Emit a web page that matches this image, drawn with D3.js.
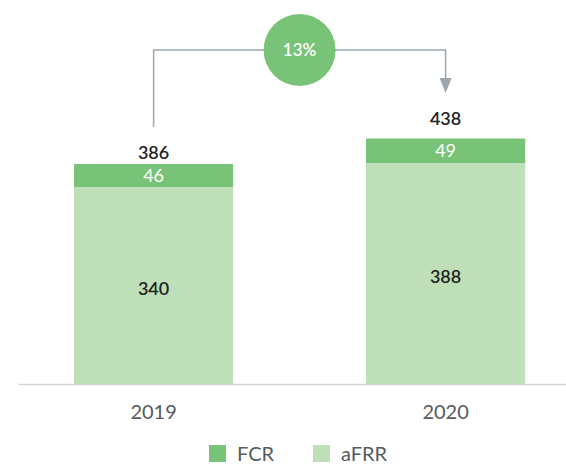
<!DOCTYPE html>
<html>
<head>
<meta charset="utf-8">
<script src="https://cdn.jsdelivr.net/npm/d3@7"></script>
<style>
  body { margin: 0; background: #fff; }
  text { font-family: Lato, "Open Sans", sans-serif; }
</style>
</head>
<body>
<div id="the_chart"></div>
<script>
var years = ["2019", "2020"];
var afrr = [340, 388];
var fcr = [46, 49];
var totals = [386, 438];
var growthLabel = "13%";
var seriesNames = ["FCR", "aFRR"];

var w = 566, h = 464;
var baseY = 384;
var colFCR = "#78c378", colAFRR = "#bedfb8";
var totalGap = [5, 13];

var svg = d3.select("#the_chart").append("svg")
    .attr("width", w).attr("height", h);

var xscale = d3.scaleBand()
    .domain(years)
    .range([7.6, 591.6])
    .paddingInner(0.455)
    .paddingOuter(0.2275);

// value axis does not start at zero in the original
var yscale = d3.scaleLinear()
    .domain([-54, 438])
    .range([baseY, 138]);

var stackData = years.map(function (y, i) {
  return { year: y, aFRR: afrr[i], FCR: fcr[i], total: totals[i] };
});
var stack = d3.stack().keys(["aFRR", "FCR"]);
var layers = stack(stackData);
var colors = { aFRR: colAFRR, FCR: colFCR };

// baseline
svg.append("line")
   .attr("x1", 19).attr("x2", w)
   .attr("y1", baseY + 0.5).attr("y2", baseY + 0.5)
   .attr("stroke", "#d3d7da").attr("stroke-width", 1.5);

layers.forEach(function (layer) {
  svg.append("g").selectAll("rect")
     .data(layer)
     .enter().append("rect")
     .attr("x", function (d) { return xscale(d.data.year); })
     .attr("width", xscale.bandwidth())
     .attr("y", function (d) { return yscale(d[1]); })
     .attr("height", function (d) {
        var bottom = layer.key === "aFRR" ? baseY : yscale(d[0]);
        return bottom - yscale(d[1]);
     })
     .attr("fill", colors[layer.key]);

  svg.append("g").selectAll("text")
     .data(layer)
     .enter().append("text")
     .attr("x", function (d) { return xscale(d.data.year) + xscale.bandwidth() / 2; })
     .attr("y", function (d) {
        var bottom = layer.key === "aFRR" ? baseY : yscale(d[0]);
        return (bottom + yscale(d[1])) / 2 + (layer.key === "aFRR" ? 9 : 6.5);
     })
     .attr("text-anchor", "middle")
     .attr("font-size", 18)
     .attr("font-weight", layer.key === "aFRR" ? 600 : 400)
     .attr("fill", layer.key === "aFRR" ? "#222" : "#fff")
     .text(function (d) { return d.data[layer.key]; });
});

// totals
svg.selectAll(".total")
   .data(stackData)
   .enter().append("text")
   .attr("class", "total")
   .attr("x", function (d) { return xscale(d.year) + xscale.bandwidth() / 2; })
   .attr("y", function (d, i) { return yscale(d.total) - totalGap[i]; })
   .attr("text-anchor", "middle")
   .attr("font-size", 18)
   .attr("font-weight", 600)
   .attr("fill", "#222")
   .text(function (d) { return d.total; });

// year labels
svg.selectAll(".year")
   .data(years)
   .enter().append("text")
   .attr("class", "year")
   .attr("x", function (d) { return xscale(d) + xscale.bandwidth() / 2; })
   .attr("y", 419)
   .attr("text-anchor", "middle")
   .attr("font-size", 20)
   .attr("fill", "#555b60")
   .text(function (d) { return d; });

// growth connector
var cx0 = xscale(years[0]) + xscale.bandwidth() / 2;
var cx1 = xscale(years[1]) + xscale.bandwidth() / 2;
var topY = 50;
svg.append("path")
   .attr("d", "M" + cx0 + "," + (yscale(totals[0]) - 37) + "V" + topY + "H" + cx1 + "V" + 80)
   .attr("fill", "none")
   .attr("stroke", "#9ba6ae")
   .attr("stroke-width", 1.5);
svg.append("path")
   .attr("d", "M" + (cx1 - 6) + "," + 78 + "L" + (cx1 + 6) + "," + 78 + "L" + cx1 + "," + 93 + "Z")
   .attr("fill", "#9ba6ae");

var midX = (cx0 + cx1) / 2;
svg.append("circle")
   .attr("cx", midX).attr("cy", topY).attr("r", 36)
   .attr("fill", colFCR);
svg.append("text")
   .attr("x", midX).attr("y", topY + 6)
   .attr("text-anchor", "middle")
   .attr("font-size", 17)
   .attr("font-weight", 600)
   .attr("fill", "#fff")
   .text(growthLabel);

// legend
var legendX = [209, 313];
var legend = svg.selectAll(".legend")
   .data(seriesNames)
   .enter().append("g")
   .attr("class", "legend")
   .attr("transform", function (d, i) { return "translate(" + legendX[i] + ",445)"; });
legend.append("rect")
   .attr("width", 17).attr("height", 17)
   .attr("fill", function (d) { return d === "FCR" ? colFCR : colAFRR; });
legend.append("text")
   .attr("x", 28).attr("y", 16)
   .attr("font-size", 20)
   .attr("fill", "#555b60")
   .text(function (d) { return d; });
</script>
</body>
</html>
